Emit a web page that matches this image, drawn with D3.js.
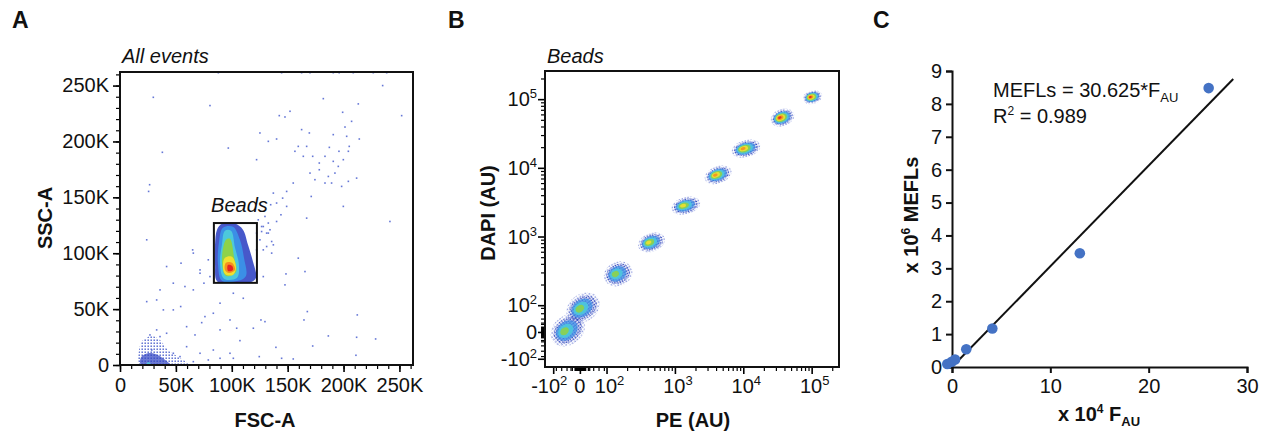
<!DOCTYPE html>
<html><head><meta charset="utf-8">
<script src="https://cdn.jsdelivr.net/npm/d3@7"></script>
<style>body{margin:0;background:#fff}svg{display:block}</style>
</head><body><svg id="c" width="1265" height="432"></svg>
<script>
// ---------------- DATA ----------------
const levelColors = ["#3346c4","#3b8fe6","#4cc8dc","#8ed24a","#f0e030","#f59020","#e52521"];

// Panel A (values in thousands)
const fscTickValues = [0,50,100,150,200,250];
const fscTickLabels = ["0","50K","100K","150K","200K","250K"];
const sscTickValues = [0,50,100,150,200,250];
const sscTickLabels = ["0","50K","100K","150K","200K","250K"];
const gateFSC = [84, 122.5];
const gateSSC = [73.5, 127];
const sparseFSC = [235.0,252.0,181.9,213.2,199.2,207.2,142.5,147.6,152.1,125.2,122.2,96.9,37.9,29.8,80.5,162.5,169.4,201.3,202.8,214.1,140.1,132.7,190.8,187.3,195.9,205.1,204.3,183.4,178.3,190.8,195.3,199.8,192.3,211.7,204.3,186.4,178.3,170.0,174.4,164.0,159.5,156.5,167.0,172.4,198.3,189.3,183.4,155.0,149.1,137.2,145.5,140.1,149.1,144.0,134.8,140.1,134.2,131.2,137.2,135.7,128.2,132.7,126.7,129.7,122.2,167.0,171.1,199.8,241.5,159.5,165.5,148.5,147.6,128.2,126.1,129.7,167.6,164.6,212.3,211.7,228.7,211.1,186.4,172.4,155.0,144.6,139.5,124.6,107.3,89.5,67.1,73.1,59.6,54.3,47.7,38.8,32.8,23.9,23.9,25.6,26.5,65.0,41.7,54.6,71.6,75.1,58.1,65.6,47.7,35.8,101.4,110.3,89.5,83.5,76.0,98.4,104.4,119.3,83.5,101.4,98.4,89.5,79.0,71.6,59.6,53.7,47.7,41.7,35.8,32.8,26.8,28.4,65.6,88.0,144.6,162.5,170.0,190.8,196.1,208.7,226.6,238.6,123.7,128.2,132.7,125.2,131.2,122.2,135.7,126.7,79.0,80.5,71.6,65.6];
const sparseSSC = [250.0,223.1,238.3,233.6,226.1,218.0,223.1,221.9,227.0,207.6,183.7,194.1,190.3,239.5,232.1,210.6,207.6,212.9,204.6,202.2,202.2,200.1,206.1,194.7,191.2,195.6,191.2,186.7,180.7,182.2,177.7,183.7,171.7,167.2,164.3,168.7,174.7,171.7,165.8,186.7,195.6,191.2,195.6,186.7,159.8,162.8,162.8,162.8,155.3,153.8,149.3,144.9,141.9,134.4,143.4,128.4,121.0,118.0,107.5,100.1,103.0,127.0,123.9,132.9,118.0,131.4,150.8,141.9,128.4,95.6,83.6,81.5,71.7,79.1,40.3,38.8,47.8,40.3,44.8,24.8,23.3,8.7,26.0,17.0,5.4,6.0,15.8,7.5,21.8,31.4,26.9,37.9,34.3,52.3,49.3,49.3,58.2,56.7,112.0,155.3,161.3,103.0,88.1,91.1,85.1,73.2,70.2,67.2,73.2,67.2,64.2,59.7,55.3,46.3,43.3,40.3,32.9,32.9,13.4,6.0,10.5,6.0,4.5,10.5,16.4,7.5,10.5,28.4,25.4,31.4,26.9,13.4,3.0,261.5,261.5,261.5,261.5,261.5,261.5,261.5,261.5,261.5,129.9,123.9,118.0,112.0,106.0,103.0,110.5,119.4,94.1,79.1,82.1,100.1];
const beadContourLevels = [0,1,2,3,4,5,6];
const beadContours = [
  [[91.2,126.3],[102.9,126.5],[110.0,121.0],[114.5,107.5],[119.0,92.3],[121.7,78.0],[116.3,74.0],[98.4,74.0],[86.8,75.0],[85.0,89.6],[85.0,107.5],[86.8,121.0]],
  [[92.1,122.8],[101.1,123.7],[107.3,112.0],[110.9,95.9],[112.7,79.7],[105.6,75.3],[91.2,75.3],[87.7,89.6],[88.6,110.2]],
  [[93.9,120.1],[99.3,120.1],[102.9,104.8],[106.4,89.6],[104.7,78.0],[93.0,77.1],[89.5,91.4],[91.2,107.5]],
  [[94.8,112.0],[98.4,112.9],[102.0,96.8],[103.8,83.3],[94.8,79.7],[91.2,92.3]],
  [[93.9,95.9],[100.2,96.8],[103.8,86.9],[101.1,80.6],[93.9,81.5],[92.1,88.7]],
  [[94.8,91.4],[100.2,91.4],[102.9,85.1],[97.5,82.4],[93.9,85.1]],
  [[96.6,89.6],[100.2,88.7],[101.1,85.1],[96.6,84.2]]
];
const debrisContourLevels = [0,0,2];
const debrisContours = [
  [[17.9,0],[17.0,13.4],[20.6,22.4],[28.6,26.0],[35.8,22.4],[42.9,13.4],[53.7,6.3],[62.6,0]],
  [[18.8,0],[18.8,7.0],[24.2,10.4],[32.2,9.6],[39.4,5.3],[44.7,0]],
  [[24.0,0],[24.3,2.2],[26.7,2.2],[27.5,0]]
];

// Panel B
const peTickValues = [-100,0,100,1000,10000,100000];
const peTickBase = ["-10","0","10","10","10","10"];
const peTickExp = ["2","","2","3","4","5"];
const dapiTickValues = [-100,0,100,1000,10000,100000];
const dapiTickBase = ["-10","0","10","10","10","10"];
const dapiTickExp = ["2","","2","3","4","5"];
const beadPE = [-45, 12, 148, 454, 1450, 4290, 11000, 37400, 103000];
const beadDAPI = [7, 90, 286, 820, 2810, 7900, 19000, 53800, 107000];
const beadSpreadPE = [0.23,0.22,0.18,0.17,0.18,0.17,0.18,0.15,0.12];
const beadSpreadDAPI = [0.17,0.16,0.14,0.11,0.1,0.1,0.1,0.1,0.08];
const beadTilt = [-40,-35,-25,-20,-15,-20,-15,-20,-15];
const beadPeakLevel = [3,3,3,4,4,5,5,6,6];

// Panel C
const fauValues = [-0.48, -0.03, 0.31, 1.45, 4.1, 13.0, 26.1];
const meflValues = [0.09, 0.16, 0.23, 0.54, 1.17, 3.46, 8.48];
const fitSlope = 0.30625;
const fitRange = [0, 28.6];
const fauTicks = [0,10,20,30];
const meflTicks = [0,1,2,3,4,5,6,7,8,9];

// ---------------- DRAW ----------------
const FONT = "'Liberation Sans', Arial, Helvetica, sans-serif";
const svg = d3.select("#c").style("font-family", FONT);
const defs = svg.append("defs");
const speck = defs.append("pattern").attr("id","speck").attr("width",3).attr("height",3).attr("patternUnits","userSpaceOnUse");
speck.append("rect").attr("x",0.5).attr("y",0.5).attr("width",1.4).attr("height",1.4).attr("fill","#3b52c8");
const speck2 = defs.append("pattern").attr("id","speck2").attr("width",2.5).attr("height",2.5).attr("patternUnits","userSpaceOnUse");
speck2.append("rect").attr("x",0.3).attr("y",0.3).attr("width",1.5).attr("height",1.5).attr("fill","#2f45bd");

function styleAxis(g, major){
  g.select(".domain").remove();
  g.selectAll(".tick line").attr("stroke","#000").attr("stroke-width", major?1.6:1.2);
  g.selectAll(".tick text").attr("fill","#111").style("font-size","20px").style("font-family",FONT);
}
function panelLetter(x, t){
  svg.append("text").attr("x",x).attr("y",28).text(t).style("font-size","23px").style("font-weight","bold").attr("fill","#111");
}

// ===== Panel A =====
const xA = d3.scaleLinear().domain([0,262.144]).range([120,413]);
const yA = d3.scaleLinear().domain([0,262.144]).range([365,72]);
panelLetter(12,"A");
defs.append("clipPath").attr("id","clipA").append("rect").attr("x",120).attr("y",72).attr("width",293).attr("height",293);
const gA = svg.append("g").attr("clip-path","url(#clipA)");
const poly = d3.line().x(d=>xA(d[0])).y(d=>yA(d[1])).curve(d3.curveCatmullRomClosed.alpha(0.5));
debrisContours.forEach((c,i)=>{
  gA.append("path").attr("d",poly(c))
    .attr("fill", i===0 ? "url(#speck)" : levelColors[debrisContourLevels[i]])
    .attr("opacity", i===0?0.95:(i===1?0.72:0.9));
});
gA.selectAll("rect.sp").data(sparseFSC).join("rect").attr("class","sp")
  .attr("x",(d)=>xA(d)-0.8).attr("y",(d,i)=>yA(sparseSSC[i])-0.8).attr("width",1.6).attr("height",1.6)
  .attr("fill","#4a5fcf").attr("opacity",0.85);
beadContours.forEach((c,i)=>{
  gA.append("path").attr("d",poly(c)).attr("fill",levelColors[beadContourLevels[i]]).attr("opacity", i===0?0.9:1);
});
// gate
svg.append("rect").attr("x",xA(gateFSC[0])).attr("y",yA(gateSSC[1]))
  .attr("width",xA(gateFSC[1])-xA(gateFSC[0])).attr("height",yA(gateSSC[0])-yA(gateSSC[1]))
  .attr("fill","none").attr("stroke","#111").attr("stroke-width",2);
svg.append("text").attr("x",xA(81.5)).attr("y",yA(137)).text("Beads").style("font-size","20px").style("font-style","italic").attr("fill","#111");
// axes
const axAxMinor = svg.append("g").attr("transform","translate(0,365)")
  .call(d3.axisBottom(xA).tickValues(d3.range(0,261,10)).tickSize(4).tickFormat(""));
styleAxis(axAxMinor,false);
const axAx = svg.append("g").attr("transform","translate(0,365)")
  .call(d3.axisBottom(xA).tickValues(fscTickValues).tickSize(7).tickPadding(6).tickFormat((d,i)=>fscTickLabels[i]));
styleAxis(axAx,true);
const ayAMinor = svg.append("g").attr("transform","translate(120,0)")
  .call(d3.axisLeft(yA).tickValues(d3.range(0,261,10)).tickSize(4).tickFormat(""));
styleAxis(ayAMinor,false);
const ayA = svg.append("g").attr("transform","translate(120,0)")
  .call(d3.axisLeft(yA).tickValues(sscTickValues).tickSize(7).tickPadding(4).tickFormat((d,i)=>sscTickLabels[i]));
styleAxis(ayA,true);
svg.append("rect").attr("x",120).attr("y",72).attr("width",293).attr("height",293).attr("fill","none").attr("stroke","#111").attr("stroke-width",2);
svg.append("text").attr("x",122).attr("y",63).text("All events").style("font-size","20px").style("font-style","italic").attr("fill","#111");
svg.append("text").attr("x",265).attr("y",427).attr("text-anchor","middle").text("FSC-A").style("font-size","20px").style("font-weight","bold").attr("fill","#111");
svg.append("text").attr("transform","translate(52,218) rotate(-90)").attr("text-anchor","middle").text("SSC-A").style("font-size","20px").style("font-weight","bold").attr("fill","#111");

// ===== Panel B =====
const LIN = 0.39;
function logicle(v){ const a=Math.abs(v); return a<=100 ? v/100*LIN : Math.sign(v)*(LIN+Math.log10(a/100)); }
const xB = d3.scaleLinear().domain([-0.51,3.79]).range([545,839]);
const yB = d3.scaleLinear().domain([-0.51,3.80]).range([367,71]);
panelLetter(448,"B");
defs.append("clipPath").attr("id","clipB").append("rect").attr("x",545).attr("y",71).attr("width",294).attr("height",296);
const gB = svg.append("g").attr("clip-path","url(#clipB)");
const kx = (839-545)/(3.79+0.51), ky = (367-71)/(3.80+0.51);
beadPE.forEach((pe,i)=>{
  const cx = xB(logicle(pe)), cy = yB(logicle(beadDAPI[i]));
  const rx = beadSpreadPE[i]*kx, ry = beadSpreadDAPI[i]*ky, peak = beadPeakLevel[i];
  const g = gB.append("g").attr("transform",`translate(${cx},${cy}) rotate(${beadTilt[i]})`);
  g.append("ellipse").attr("rx",rx*1.2).attr("ry",ry*1.25).attr("fill","url(#speck)").attr("opacity",0.7);
  for(let k=0;k<=peak;k++){
    const s = 1-k/(peak+1.3);
    g.append("ellipse").attr("cx",-(1-s)*rx*0.3).attr("cy",-(1-s)*ry*0.15)
      .attr("rx",rx*s).attr("ry",ry*s).attr("fill", k===0 ? "url(#speck2)" : levelColors[k])
      .attr("opacity",k===0?1:(k===1?0.75:0.9));
  }
});
const minorB = d3.range(-20,21,2).concat([-90,-70,-50,-35,-30,50,70,90, 30, 35])
  .concat(d3.range(2,10).map(m=>m*100), d3.range(2,10).map(m=>m*1000), d3.range(2,10).map(m=>m*10000), [200000]);
const axBMinor = svg.append("g").attr("transform","translate(0,367)")
  .call(d3.axisBottom(xB).tickValues(minorB.map(logicle)).tickSize(4).tickFormat(""));
styleAxis(axBMinor,false);
const axB = svg.append("g").attr("transform","translate(0,367)")
  .call(d3.axisBottom(xB).tickValues(peTickValues.map(logicle)).tickSize(7).tickPadding(6).tickFormat(""));
styleAxis(axB,true);
const ayBMinor = svg.append("g").attr("transform","translate(545,0)")
  .call(d3.axisLeft(yB).tickValues(minorB.map(logicle)).tickSize(4).tickFormat(""));
styleAxis(ayBMinor,false);
const ayB = svg.append("g").attr("transform","translate(545,0)")
  .call(d3.axisLeft(yB).tickValues(dapiTickValues.map(logicle)).tickSize(7).tickFormat(""));
styleAxis(ayB,true);
peTickValues.forEach((v,i)=>{
  const off = v<0 ? -4 : (v>0 ? 3 : 0);
  const t = svg.append("text").attr("x",xB(logicle(v))+off).attr("y",393).attr("text-anchor","middle").style("font-size","20px").attr("fill","#111");
  t.append("tspan").text(peTickBase[i]);
  if(peTickExp[i]) t.append("tspan").attr("dy",-8).style("font-size","13px").text(peTickExp[i]);
});
dapiTickValues.forEach((v,i)=>{
  const t = svg.append("text").attr("x",537).attr("y",yB(logicle(v))+7).attr("text-anchor","end").style("font-size","20px").attr("fill","#111");
  t.append("tspan").text(dapiTickBase[i]);
  if(dapiTickExp[i]) t.append("tspan").attr("dy",-8).style("font-size","13px").text(dapiTickExp[i]);
});
svg.append("rect").attr("x",545).attr("y",71).attr("width",294).attr("height",296).attr("fill","none").attr("stroke","#111").attr("stroke-width",2);
svg.append("text").attr("x",547).attr("y",63).text("Beads").style("font-size","20px").style("font-style","italic").attr("fill","#111");
svg.append("text").attr("x",693).attr("y",427).attr("text-anchor","middle").text("PE (AU)").style("font-size","20px").style("font-weight","bold").attr("fill","#111");
svg.append("text").attr("transform","translate(495,213) rotate(-90)").attr("text-anchor","middle").text("DAPI (AU)").style("font-size","20px").style("font-weight","bold").attr("fill","#111");

// ===== Panel C =====
const xC = d3.scaleLinear().domain([0,30]).range([952,1247]);
const yC = d3.scaleLinear().domain([0,9]).range([367,71]);
panelLetter(873,"C");
const axC = svg.append("g").attr("transform","translate(0,367)")
  .call(d3.axisBottom(xC).tickValues(fauTicks).tickSize(6).tickPadding(6).tickFormat(d3.format("d")));
axC.select(".domain").attr("stroke","#111").attr("stroke-width",2);
axC.selectAll(".tick line").attr("stroke","#111").attr("stroke-width",2);
axC.selectAll(".tick text").attr("fill","#111").style("font-size","20px").style("font-family",FONT);
const ayC = svg.append("g").attr("transform","translate(952,0)")
  .call(d3.axisLeft(yC).tickValues(meflTicks).tickSize(6).tickPadding(4).tickFormat(d3.format("d")));
ayC.select(".domain").attr("stroke","#111").attr("stroke-width",2);
ayC.selectAll(".tick line").attr("stroke","#111").attr("stroke-width",2);
ayC.selectAll(".tick text").attr("fill","#111").style("font-size","20px").style("font-family",FONT);
svg.append("line").attr("x1",xC(fitRange[0])).attr("y1",yC(fitRange[0]*fitSlope))
  .attr("x2",xC(fitRange[1])).attr("y2",yC(fitRange[1]*fitSlope)).attr("stroke","#111").attr("stroke-width",2);
svg.selectAll("circle.pc").data(fauValues).join("circle").attr("class","pc")
  .attr("cx",d=>xC(d)).attr("cy",(d,i)=>yC(meflValues[i])).attr("r",5.3).attr("fill","#4472c4");
const eq = svg.append("text").attr("x",993).attr("y",97).style("font-size","20px").attr("fill","#111");
eq.append("tspan").text("MEFLs = 30.625*F");
eq.append("tspan").attr("dy",5).style("font-size","13px").text("AU");
const r2 = svg.append("text").attr("x",993).attr("y",123).style("font-size","20px").attr("fill","#111");
r2.append("tspan").text("R");
r2.append("tspan").attr("dy",-8).style("font-size","12px").text("2");
r2.append("tspan").attr("dy",8).text(" = 0.989");
const xl = svg.append("text").attr("x",1099).attr("y",421).attr("text-anchor","middle").style("font-size","20px").style("font-weight","bold").attr("fill","#111");
xl.append("tspan").text("x 10");
xl.append("tspan").attr("dy",-8).style("font-size","12px").text("4");
xl.append("tspan").attr("dy",8).text(" F");
xl.append("tspan").attr("dy",5).style("font-size","13px").text("AU");
const yl = svg.append("text").attr("transform","translate(918,215) rotate(-90)").attr("text-anchor","middle").style("font-size","20px").style("font-weight","bold").attr("fill","#111");
yl.append("tspan").text("x 10");
yl.append("tspan").attr("dy",-8).style("font-size","12px").text("6");
yl.append("tspan").attr("dy",8).text(" MEFLs");
</script></body></html>
